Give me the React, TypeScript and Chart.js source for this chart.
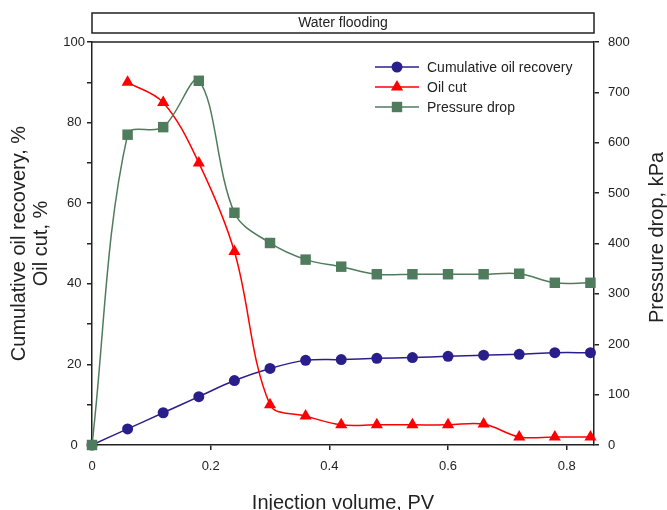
import React, { useEffect, useRef } from 'react';
import { Chart, registerables } from 'chart.js';

Chart.register(...registerables);

// ---- data ----
const injectionPV = [0, 0.06, 0.12, 0.18, 0.24, 0.3, 0.36, 0.42, 0.48, 0.54, 0.6, 0.66, 0.72, 0.78, 0.84];
const cumulativeRecovery = [0, 4, 8, 12, 16, 19, 21, 21.2, 21.5, 21.7, 22, 22.3, 22.5, 22.9, 22.9];
const oilCut = [null, 90, 85, 70, 48, 10, 7.2, 5, 5, 5, 5, 5.2, 2, 2, 2];
const pressureDrop = [0, 616, 631, 723, 461, 401, 368, 354, 339, 339, 339, 339, 340, 322, 322];

const xTicks = [0, 0.2, 0.4, 0.6, 0.8];
const leftTicks = [0, 10, 20, 30, 40, 50, 60, 70, 80, 90, 100];
const leftLabeled = [0, 20, 40, 60, 80, 100];
const rightTicks = [0, 100, 200, 300, 400, 500, 600, 700, 800];

const seriesNames = ['Cumulative oil recovery', 'Oil cut', 'Pressure drop'];
const bandLabel = 'Water flooding';
const rightTitle = 'Pressure drop, kPa';

const NAVY = '#2a1f8a';
const RED = '#ff0000';
const GREEN = '#4f7c5c';
const INK = '#222222';
const FONT = "'Liberation Sans', Arial, sans-serif";

function drawMarker(ctx: CanvasRenderingContext2D, kind: string, x: number, y: number, color: string) {
  ctx.save();
  ctx.fillStyle = color;
  ctx.beginPath();
  if (kind === 'circle') {
    ctx.arc(x, y, 5.5, 0, Math.PI * 2);
  } else if (kind === 'triangle') {
    ctx.moveTo(x, y - 7);
    ctx.lineTo(x + 6.1, y + 3.5);
    ctx.lineTo(x - 6.1, y + 3.5);
    ctx.closePath();
  } else {
    ctx.rect(x - 5.2, y - 5.2, 10.4, 10.4);
  }
  ctx.fill();
  ctx.restore();
}

const decorPlugin = {
  id: 'decor',
  afterDraw(chart: any) {
    const { ctx, chartArea } = chart;
    const { left, right, top, bottom } = chartArea;
    ctx.save();
    // top frame line
    ctx.strokeStyle = INK;
    ctx.lineWidth = 1.5;
    ctx.beginPath();
    ctx.moveTo(left, top);
    ctx.lineTo(right, top);
    ctx.stroke();
    // water flooding band
    ctx.strokeRect(left, 13, right - left, 20);
    ctx.fillStyle = INK;
    ctx.font = `14px ${FONT}`;
    ctx.textAlign = 'center';
    ctx.textBaseline = 'middle';
    ctx.fillText(bandLabel, (left + right) / 2, 23.5);
    // right axis title, reading bottom-to-top
    ctx.save();
    ctx.translate(657, (top + bottom) / 2 - 6);
    ctx.rotate(-Math.PI / 2);
    ctx.font = `20px ${FONT}`;
    ctx.textAlign = 'center';
    ctx.textBaseline = 'middle';
    ctx.fillText(rightTitle, 0, 0);
    ctx.restore();
    // legend
    const colors = [NAVY, RED, GREEN];
    const kinds = ['circle', 'triangle', 'rect'];
    const lx0 = 375, lx1 = 419, mx = 397, tx = 427;
    for (let i = 0; i < seriesNames.length; i++) {
      const y = 67 + i * 20;
      ctx.strokeStyle = colors[i];
      ctx.lineWidth = 1.5;
      ctx.beginPath();
      ctx.moveTo(lx0, y);
      ctx.lineTo(lx1, y);
      ctx.stroke();
      drawMarker(ctx, kinds[i], mx, y, colors[i]);
      ctx.fillStyle = INK;
      ctx.font = `14px ${FONT}`;
      ctx.textAlign = 'left';
      ctx.textBaseline = 'middle';
      ctx.fillText(seriesNames[i], tx, y + 1);
    }
    ctx.restore();
  },
};

export default function App() {
  const canvasRef = useRef<HTMLCanvasElement | null>(null);

  useEffect(() => {
    if (!canvasRef.current) return;
    const tickFont = { family: FONT, size: 13 };
    const titleFont = { family: FONT, size: 20 };

    const chart = new Chart(canvasRef.current, {
      type: 'line',
      data: {
        datasets: [
          {
            label: seriesNames[0],
            data: injectionPV.map((x, i) => ({ x, y: cumulativeRecovery[i] })),
            yAxisID: 'y',
            borderColor: NAVY,
            backgroundColor: NAVY,
            borderWidth: 1.5,
            pointStyle: 'circle',
            pointRadius: 5.5,
            pointBorderWidth: 0,
            tension: 0.35,
            clip: false,
            order: 3,
          },
          {
            label: seriesNames[1],
            data: injectionPV
              .map((x, i) => ({ x, y: oilCut[i] }))
              .filter((p) => p.y !== null),
            yAxisID: 'y',
            borderColor: RED,
            backgroundColor: RED,
            borderWidth: 1.5,
            pointStyle: 'triangle',
            pointRadius: 7,
            pointBorderWidth: 0,
            tension: 0.35,
            clip: false,
            order: 2,
          },
          {
            label: seriesNames[2],
            data: injectionPV.map((x, i) => ({ x, y: pressureDrop[i] })),
            yAxisID: 'y1',
            borderColor: GREEN,
            backgroundColor: GREEN,
            borderWidth: 1.5,
            pointStyle: 'rect',
            pointRadius: 7.4,
            pointBorderWidth: 0,
            tension: 0.35,
            clip: false,
            order: 1,
          },
        ] as any,
      },
      options: {
        responsive: false,
        animation: false,
        events: [],
        layout: { padding: { top: 42, left: 0, right: 0, bottom: 0 } },
        plugins: {
          legend: { display: false },
          tooltip: { enabled: false },
          title: { display: false },
        },
        scales: {
          x: {
            type: 'linear',
            min: 0,
            max: 0.846,
            afterBuildTicks: (s: any) => {
              s.ticks = xTicks.map((v) => ({ value: v }));
            },
            afterFit: (s: any) => {
              s.height = 65;
            },
            ticks: {
              font: tickFont,
              color: INK,
              padding: 9,
              maxRotation: 0,
              callback: (v: any) => (Number(v) === 0 ? '0' : Number(v).toFixed(1)),
            },
            grid: { drawOnChartArea: false, drawTicks: true, tickLength: 5, color: INK, lineWidth: 1.5 },
            border: { display: true, color: INK, width: 1.5 },
            title: {
              display: true,
              text: 'Injection volume, PV',
              font: { ...titleFont, lineHeight: 0.7 },
              color: INK,
              padding: { top: 0, bottom: 0 },
            },
          },
          y: {
            type: 'linear',
            position: 'left',
            min: 0,
            max: 100,
            afterBuildTicks: (s: any) => {
              s.ticks = leftTicks.map((v) => ({ value: v }));
            },
            afterFit: (s: any) => {
              s.width = 92;
            },
            ticks: {
              font: tickFont,
              color: INK,
              padding: 2,
              crossAlign: 'center',
              callback: (v: any) => (leftLabeled.includes(Number(v)) ? String(v) : ''),
            },
            grid: { drawOnChartArea: false, drawTicks: true, tickLength: 5, color: INK, lineWidth: 1.5 },
            border: { display: true, color: INK, width: 1.5 },
            title: {
              display: true,
              text: ['Cumulative oil recovery, %', 'Oil cut, %'],
              font: { ...titleFont, lineHeight: 1.1 },
              color: INK,
              padding: { top: 8, bottom: 0 },
            },
          },
          y1: {
            type: 'linear',
            position: 'right',
            min: 0,
            max: 800,
            afterBuildTicks: (s: any) => {
              s.ticks = rightTicks.map((v) => ({ value: v }));
            },
            afterFit: (s: any) => {
              s.width = 73;
            },
            ticks: { font: tickFont, color: INK, padding: 9 },
            grid: { drawOnChartArea: false, drawTicks: true, tickLength: 5, color: INK, lineWidth: 1.5 },
            border: { display: true, color: INK, width: 1.5 },
            title: { display: false },
          },
        },
      } as any,
      plugins: [decorPlugin],
    });
    return () => chart.destroy();
  }, []);

  return (
    <div style={{ position: 'absolute', left: 0, top: 0, width: 667, height: 510, background: '#fff' }}>
      <canvas ref={canvasRef} width={667} height={510} />
    </div>
  );
}
